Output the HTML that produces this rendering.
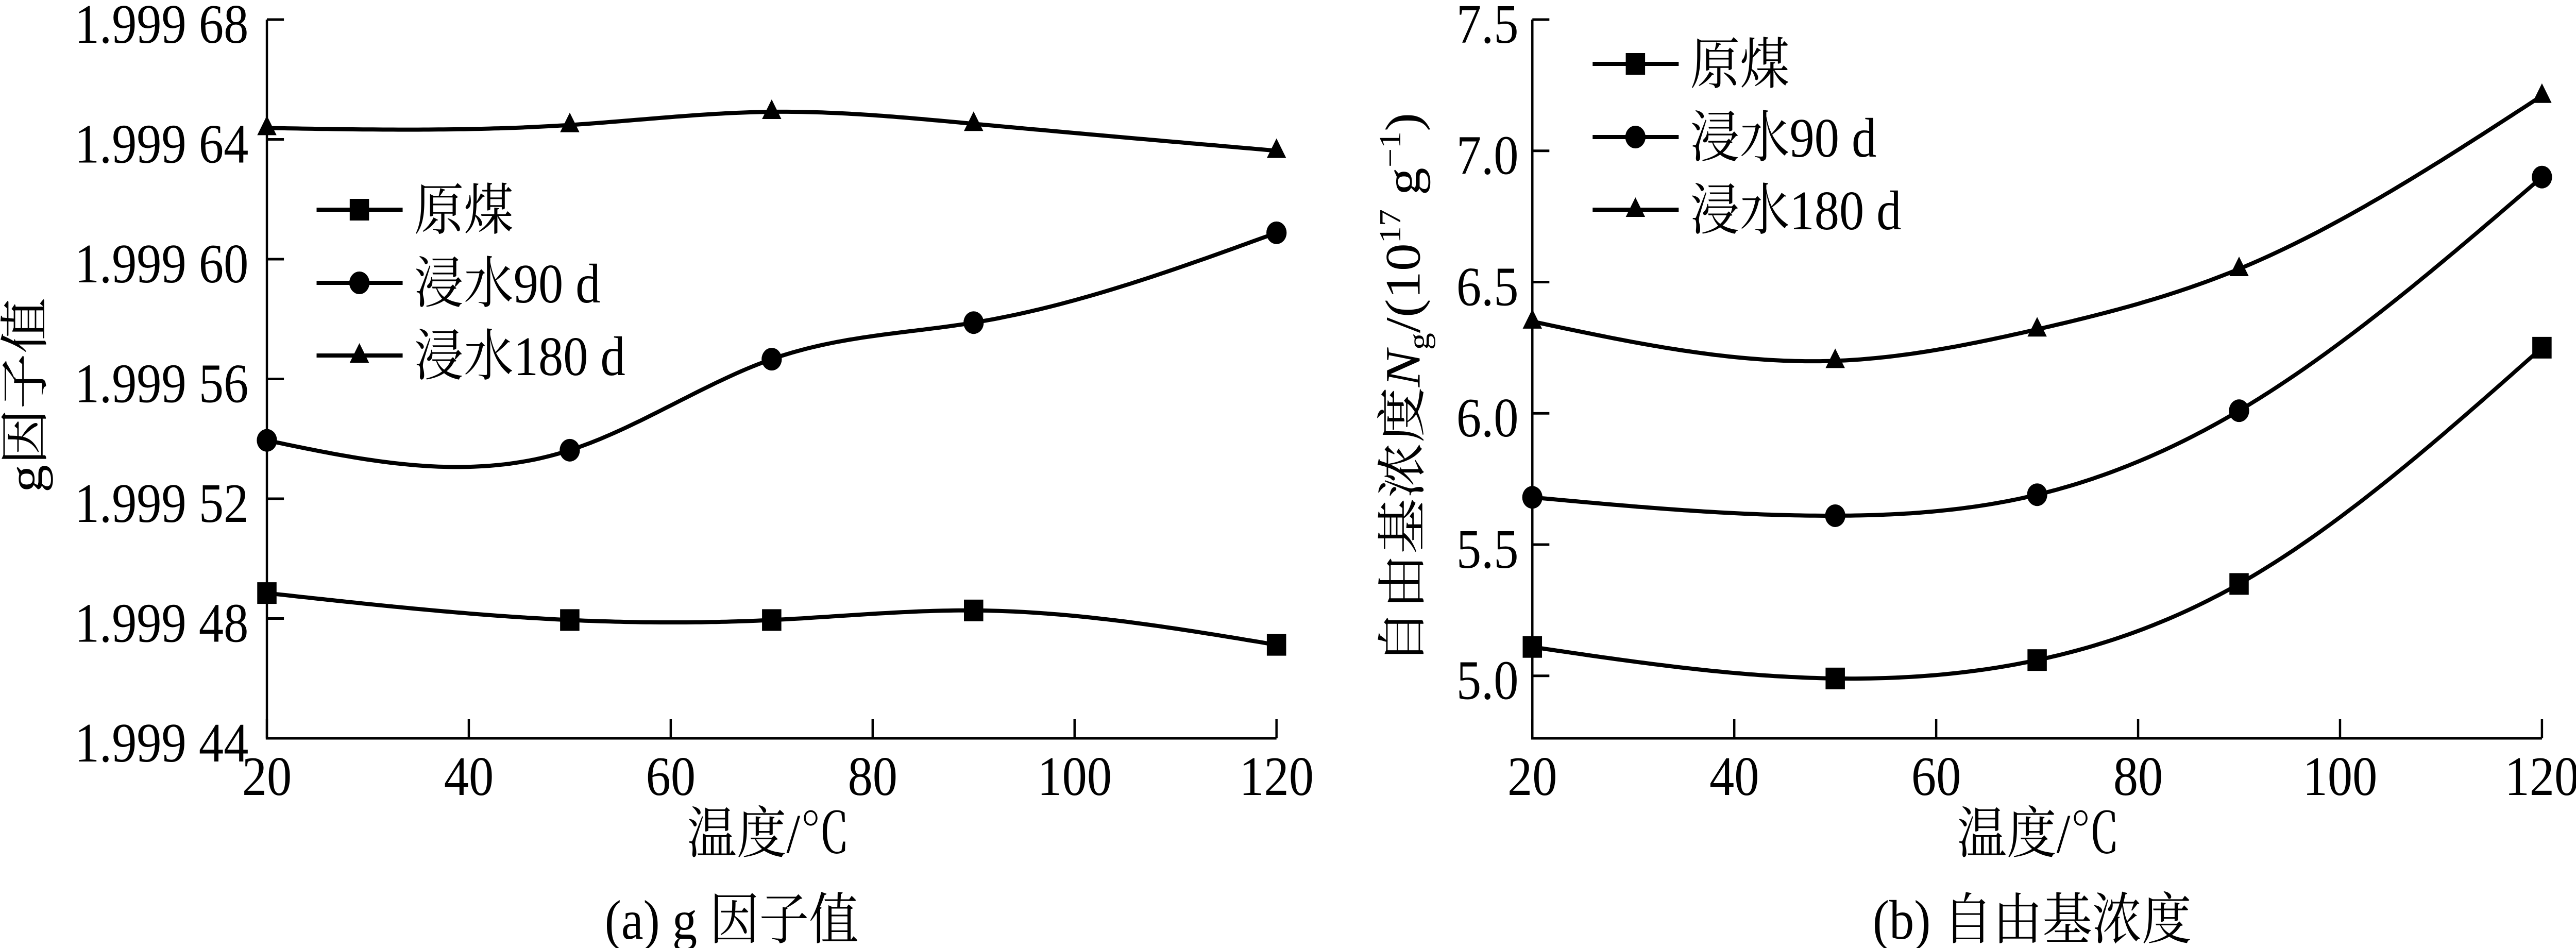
<!DOCTYPE html>
<html><head><meta charset="utf-8">
<style>
html,body{margin:0;padding:0;background:#fff;width:100%;height:100%;overflow:hidden;}
svg{display:block;position:absolute;left:0;top:0;width:100vw;height:100vh;font-family:"Liberation Serif","Noto Serif CJK SC","Noto Sans CJK SC",serif;}
</style></head>
<body>
<svg id="fig" viewBox="0 0 5598 1840" preserveAspectRatio="none" xmlns="http://www.w3.org/2000/svg"></svg>
<script>
const categories = [20, 50, 70, 90, 120];
const seriesNames = ["原煤", "浸水90 d", "浸水180 d"];
const gRaw = [48.85, 47.95, 47.95, 48.27, 47.12];
const g90 = [53.95, 53.62, 56.66, 57.88, 60.88];
const g180 = [64.38, 64.48, 64.92, 64.52, 63.62];
const nRaw = [5.11, 4.99, 5.06, 5.35, 6.25];
const n90 = [5.68, 5.61, 5.69, 6.01, 6.90];
const n180 = [6.35, 6.20, 6.32, 6.55, 7.21];
const xTicks = [20, 40, 60, 80, 100, 120];
const gTicks = [44, 48, 52, 56, 60, 64, 68];
const gTickLabels = ["1.999 44","1.999 48","1.999 52","1.999 56","1.999 60","1.999 64","1.999 68"];
const nTicks = [5.0, 5.5, 6.0, 6.5, 7.0, 7.5];
const nTickLabels = ["5.0","5.5","6.0","6.5","7.0","7.5"];

const NS = "http://www.w3.org/2000/svg";
const svg = document.getElementById("fig");
function mk(tag, attrs, parent) {
  const e = document.createElementNS(NS, tag);
  for (const k in attrs) e.setAttribute(k, attrs[k]);
  (parent || svg).appendChild(e);
  return e;
}
function spline(xs, ys) {
  const n = xs.length, h = [], al = [], l = [1], mu = [0], z = [0], c = new Array(n).fill(0), b = [], d = [];
  for (let i = 0; i < n - 1; i++) h.push(xs[i+1] - xs[i]);
  for (let i = 1; i < n - 1; i++) al[i] = 3/h[i]*(ys[i+1]-ys[i]) - 3/h[i-1]*(ys[i]-ys[i-1]);
  for (let i = 1; i < n - 1; i++) { l[i] = 2*(xs[i+1]-xs[i-1]) - h[i-1]*mu[i-1]; mu[i] = h[i]/l[i]; z[i] = (al[i]-h[i-1]*z[i-1])/l[i]; }
  for (let j = n - 2; j >= 0; j--) { c[j] = z[j] - mu[j]*c[j+1]; b[j] = (ys[j+1]-ys[j])/h[j] - h[j]*(c[j+1]+2*c[j])/3; d[j] = (c[j+1]-c[j])/(3*h[j]); }
  return function(x) {
    let i = 0; while (i < n - 2 && x > xs[i+1]) i++;
    const t = x - xs[i];
    return ys[i] + b[i]*t + c[i]*t*t + d[i]*t*t*t;
  };
}
function marker(type, x, y, g) {
  let m;
  if (type === 0) m = mk("rect", {x: x-21, y: y-21, width: 42, height: 42, fill: "#000"}, g);
  else if (type === 1) m = mk("circle", {cx: x, cy: y, r: 22, fill: "#000"}, g);
  else m = mk("polygon", {points: `${x},${y-24} ${x+21},${y+14} ${x-21},${y+14}`, fill: "#000"}, g);
  
  
}
function drawChart(cfg) {
  const g = mk("g", {});
  
  
  const X = v => cfg.x0 + (v - 20) / 100 * (cfg.x1 - cfg.x0);
  const Y = v => cfg.yb - (v - cfg.vmin) / (cfg.vmax - cfg.vmin) * (cfg.yb - cfg.yt);
  const ax = mk("path", {d: `M${cfg.x0},${cfg.yt} V${cfg.yb} H${cfg.x1}`, stroke: "#000", "stroke-width": 5, fill: "none"}, g);
  
  
  cfg.yTicks.forEach((v, i) => {
    const y = Y(v);
    const t = mk("line", {x1: cfg.x0, x2: cfg.x0 + 37, y1: y, y2: y, stroke: "#000", "stroke-width": 5}, g);
    
    
    const tx = mk("text", {x: cfg.x0 - cfg.labelGap, y: y + 45, "text-anchor": "end", "font-size": 108}, g);
    tx.textContent = cfg.yLabels[i];
    
    
  });
  xTicks.forEach(v => {
    const x = X(v);
    const t = mk("line", {x1: x, x2: x, y1: cfg.yb, y2: cfg.yb - 37, stroke: "#000", "stroke-width": 5}, g);
    
    
    const tx = mk("text", {x: x, y: cfg.yb + 110, "text-anchor": "middle", "font-size": 108}, g);
    tx.textContent = v;
    
    
  });
  cfg.series.forEach((vals, si) => {
    const f = spline(categories, vals);
    let d = "";
    for (let v = 20; v <= 120.001; v += 0.5) d += (d ? "L" : "M") + X(v).toFixed(1) + "," + Y(f(v)).toFixed(1);
    const p = mk("path", {d: d, stroke: "#000", "stroke-width": 8, fill: "none"}, g);
    
    
    categories.forEach((c, i) => marker(si, X(c), Y(vals[i]), g));
    const ly = cfg.legY[si];
    const ll = mk("line", {x1: cfg.legX, x2: cfg.legX + 187, y1: ly, y2: ly, stroke: "#000", "stroke-width": 8}, g);
    
    
    marker(si, cfg.legX + 93, ly, g);
    const lt = mk("text", {x: cfg.legX + 212, y: ly + 38, "font-size": 108}, g);
    lt.textContent = seriesNames[si];
    
    
  });
  const xt = mk("text", {x: cfg.xTitleX, y: 1655, "text-anchor": "middle", "font-size": 108}, g);
  xt.textContent = "温度/℃";
  
  
  const cap = mk("text", {x: cfg.capX, y: 1822, "text-anchor": "middle", "font-size": 108}, g);
  cap.textContent = cfg.caption;
  
  
  return g;
}
drawChart({name: "chart-g-factor", x0: 580, x1: 2774, yt: 38, yb: 1433, vmin: 44, vmax: 68,
  yTicks: gTicks, yLabels: gTickLabels, labelGap: 40, series: [gRaw, g90, g180],
  legX: 688, legY: [407, 549, 690], xTitleX: 1670, capX: 1590, caption: "(a) g 因子值"});
drawChart({name: "chart-radical-concentration", x0: 3330, x1: 5524, yt: 38, yb: 1433, vmin: 4.762, vmax: 7.5,
  yTicks: nTicks, yLabels: nTickLabels, labelGap: 30, series: [nRaw, n90, n180],
  legX: 3461, legY: [124, 266, 407], xTitleX: 4430, capX: 4416, caption: "(b) 自由基浓度"});
const yt1 = mk("text", {transform: "translate(92,767) rotate(-90)", "text-anchor": "middle", "font-size": 108});
yt1.textContent = "g因子值";


const yt2 = mk("text", {transform: "translate(3085,755) rotate(-90)", "text-anchor": "middle", "font-size": 108});


yt2.innerHTML = '自由基浓度<tspan font-style="italic">N</tspan><tspan font-size="66" dy="20">g</tspan><tspan dy="-20">/(10</tspan><tspan font-size="66" dy="-42">17</tspan><tspan dy="42"> g</tspan><tspan font-size="66" dy="-42">−1</tspan><tspan dy="42">)</tspan>';
</script>
</body></html>
